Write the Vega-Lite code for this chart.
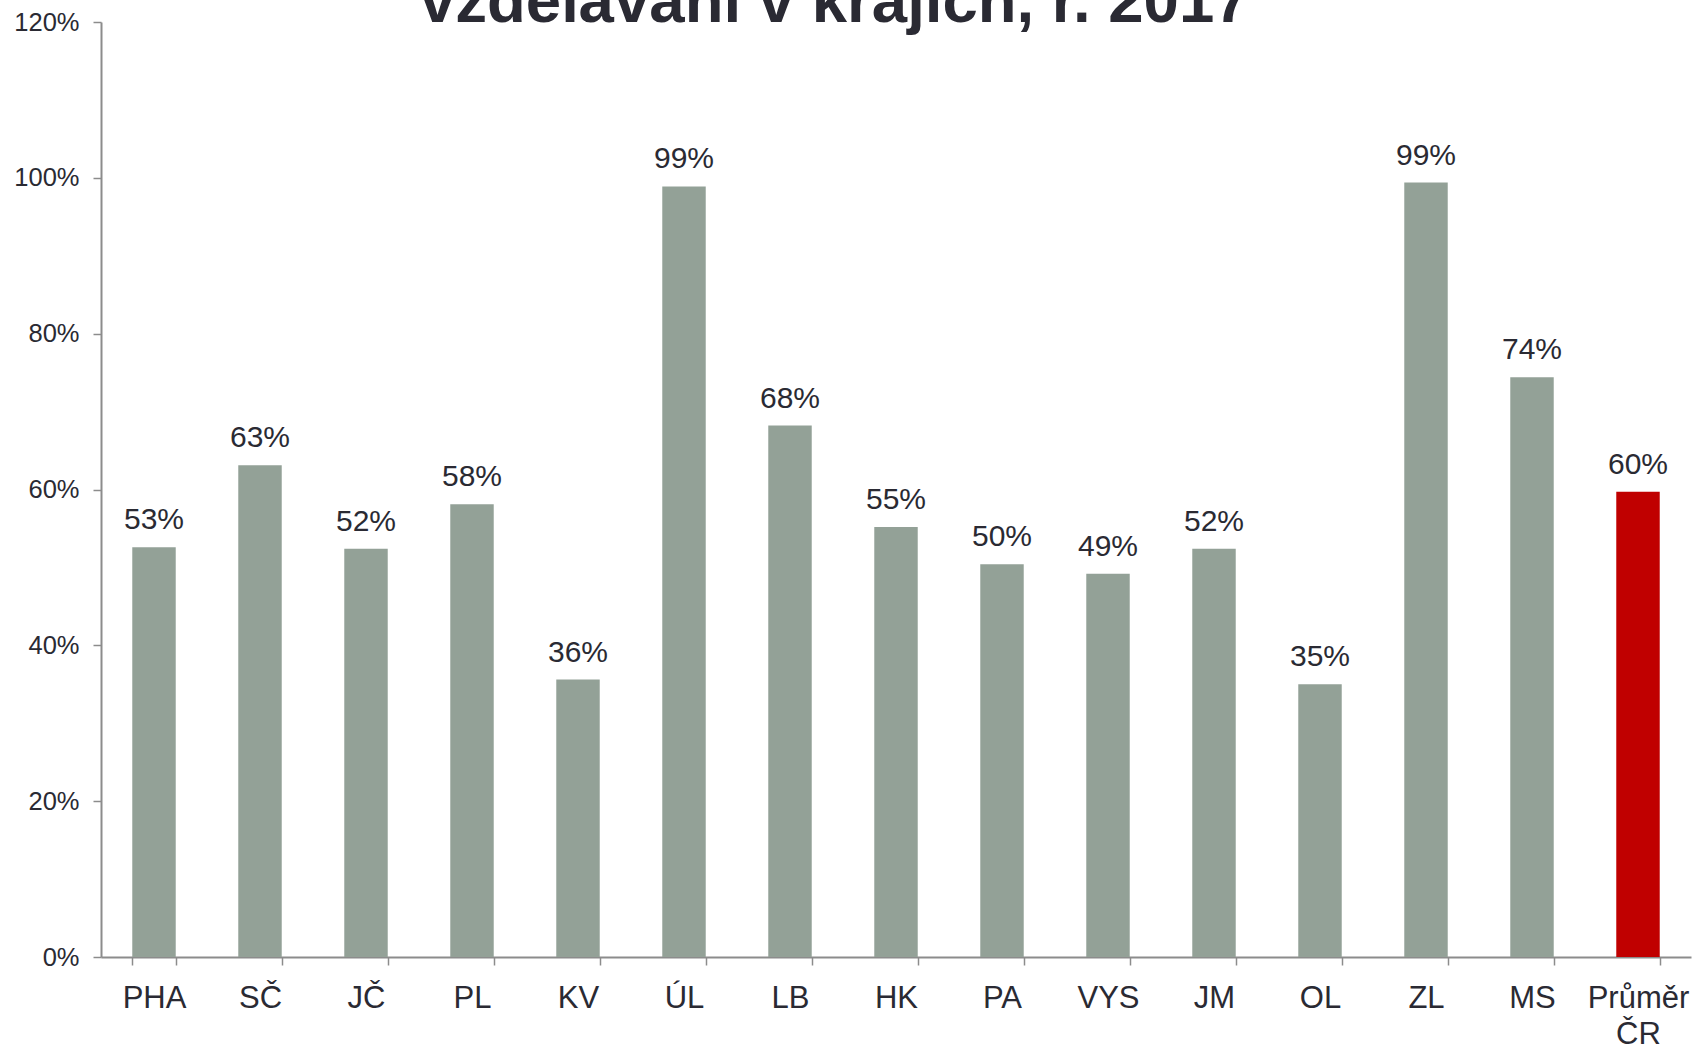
{
  "$schema": "https://vega.github.io/schema/vega-lite/v6.json",
  "autosize": {"type": "none"},
  "padding": {"left": 101, "top": 22, "right": 5, "bottom": 90},
  "width": 1590,
  "height": 935,
  "background": "white",
  "config": {
    "font": "Liberation Sans",
    "view": {"stroke": null}
  },
  "title": {
    "text": "vzdělávání v krajích, r. 2017",
    "font": "Liberation Sans",
    "fontSize": 63.5,
    "fontWeight": "bold",
    "color": "#2a2a33",
    "anchor": "start",
    "frame": "group",
    "dx": 319,
    "dy": 48,
    "offset": -27,
    "baseline": "alphabetic"
  },
  "data": {
    "values": [
      {"kraj": "PHA", "podil": 0.526, "typ": "kraj"},
      {"kraj": "SČ", "podil": 0.631, "typ": "kraj"},
      {"kraj": "JČ", "podil": 0.524, "typ": "kraj"},
      {"kraj": "PL", "podil": 0.581, "typ": "kraj"},
      {"kraj": "KV", "podil": 0.356, "typ": "kraj"},
      {"kraj": "ÚL", "podil": 0.989, "typ": "kraj"},
      {"kraj": "LB", "podil": 0.682, "typ": "kraj"},
      {"kraj": "HK", "podil": 0.552, "typ": "kraj"},
      {"kraj": "PA", "podil": 0.504, "typ": "kraj"},
      {"kraj": "VYS", "podil": 0.492, "typ": "kraj"},
      {"kraj": "JM", "podil": 0.524, "typ": "kraj"},
      {"kraj": "OL", "podil": 0.350, "typ": "kraj"},
      {"kraj": "ZL", "podil": 0.994, "typ": "kraj"},
      {"kraj": "MS", "podil": 0.744, "typ": "kraj"},
      {"kraj": "Průměr ČR", "podil": 0.597, "typ": "prumer"}
    ]
  },
  "encoding": {
    "x": {
      "field": "kraj",
      "type": "nominal",
      "sort": null,
      "scale": {"paddingInner": 0.59, "paddingOuter": 0.295},
      "axis": {
        "title": null,
        "labelAngle": 0,
        "labelFont": "Liberation Sans",
        "labelFontSize": 31,
        "labelColor": "#2a2a33",
        "labelPadding": 18,
        "labelLineHeight": 36,
        "labelExpr": "datum.value == 'Průměr ČR' ? ['Průměr', 'ČR'] : datum.value",
        "tickBand": "extent",
        "tickSize": 8,
        "tickColor": "#8c8c8c",
        "tickWidth": 1.5,
        "domainColor": "#8c8c8c",
        "domainWidth": 2,
        "grid": false
      }
    },
    "y": {
      "field": "podil",
      "type": "quantitative",
      "scale": {"domain": [0, 1.2], "nice": false},
      "axis": {
        "title": null,
        "format": ".0%",
        "values": [0, 0.2, 0.4, 0.6, 0.8, 1.0, 1.2],
        "labelFont": "Liberation Sans",
        "labelFontSize": 25.5,
        "labelColor": "#2a2a33",
        "labelPadding": 14,
        "tickSize": 8,
        "tickColor": "#8c8c8c",
        "tickWidth": 1.5,
        "domainColor": "#8c8c8c",
        "domainWidth": 2,
        "grid": false
      }
    }
  },
  "layer": [
    {
      "mark": {"type": "bar"},
      "encoding": {
        "color": {
          "field": "typ",
          "type": "nominal",
          "scale": {"domain": ["kraj", "prumer"], "range": ["#93a197", "#c00000"]},
          "legend": null
        }
      }
    },
    {
      "mark": {
        "type": "text",
        "baseline": "alphabetic",
        "dy": -18,
        "font": "Liberation Sans",
        "fontSize": 30,
        "color": "#2a2a33"
      },
      "encoding": {
        "text": {"field": "podil", "type": "quantitative", "format": ".0%"}
      }
    }
  ]
}
